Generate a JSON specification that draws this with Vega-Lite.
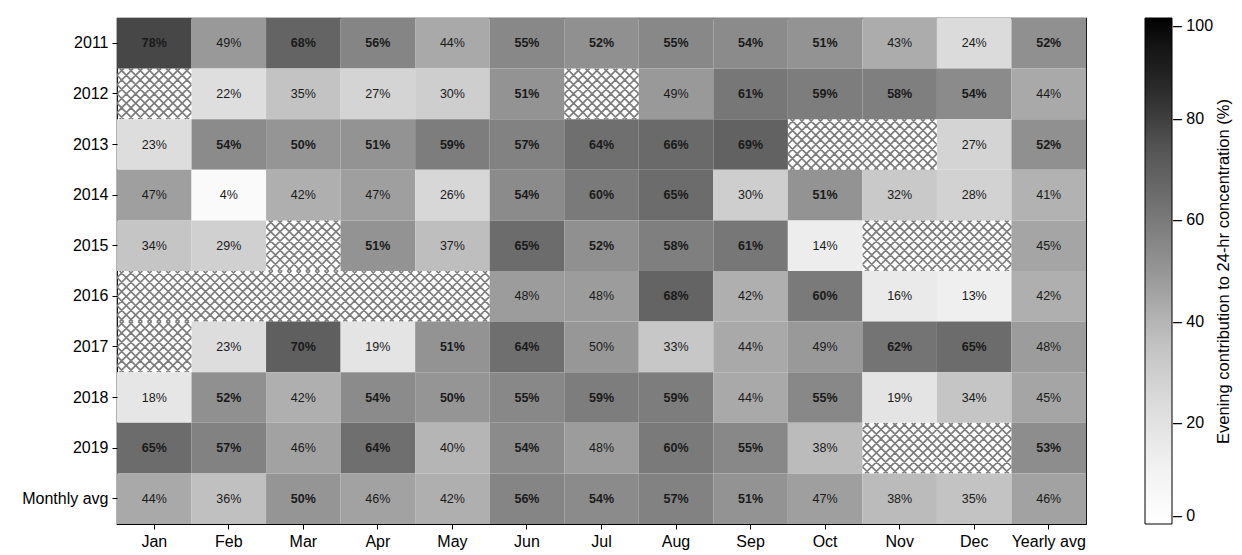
{
  "$schema": "https://vega.github.io/schema/vega-lite/v6.json",
  "width": 969,
  "height": 506,
  "autosize": {"type": "none"},
  "padding": {"left": 117, "top": 18, "right": 156, "bottom": 31},
  "background": "white",
  "data": {
    "values": [
      {"row": "2011", "Jan": 78, "Feb": 49, "Mar": 68, "Apr": 56, "May": 44, "Jun": 55, "Jul": 52, "Aug": 55, "Sep": 54, "Oct": 51, "Nov": 43, "Dec": 24, "Yearly avg": 52},
      {"row": "2012", "Jan": null, "Feb": 22, "Mar": 35, "Apr": 27, "May": 30, "Jun": 51, "Jul": null, "Aug": 49, "Sep": 61, "Oct": 59, "Nov": 58, "Dec": 54, "Yearly avg": 44},
      {"row": "2013", "Jan": 23, "Feb": 54, "Mar": 50.2, "Apr": 51, "May": 59, "Jun": 57, "Jul": 64, "Aug": 66, "Sep": 69, "Oct": null, "Nov": null, "Dec": 27, "Yearly avg": 52},
      {"row": "2014", "Jan": 47, "Feb": 4, "Mar": 42, "Apr": 47, "May": 26, "Jun": 54, "Jul": 60, "Aug": 65, "Sep": 30, "Oct": 51, "Nov": 32, "Dec": 28, "Yearly avg": 41},
      {"row": "2015", "Jan": 34, "Feb": 29, "Mar": null, "Apr": 51, "May": 37, "Jun": 65, "Jul": 52, "Aug": 58, "Sep": 61, "Oct": 14, "Nov": null, "Dec": null, "Yearly avg": 45},
      {"row": "2016", "Jan": null, "Feb": null, "Mar": null, "Apr": null, "May": null, "Jun": 48, "Jul": 48, "Aug": 68, "Sep": 42, "Oct": 60, "Nov": 16, "Dec": 13, "Yearly avg": 42},
      {"row": "2017", "Jan": null, "Feb": 23, "Mar": 70, "Apr": 19, "May": 51, "Jun": 64, "Jul": 49.6, "Aug": 33, "Sep": 44, "Oct": 49, "Nov": 62, "Dec": 65, "Yearly avg": 48},
      {"row": "2018", "Jan": 18, "Feb": 52, "Mar": 42, "Apr": 54, "May": 50.2, "Jun": 55, "Jul": 59, "Aug": 59, "Sep": 44, "Oct": 55, "Nov": 19, "Dec": 34, "Yearly avg": 45},
      {"row": "2019", "Jan": 65, "Feb": 57, "Mar": 46, "Apr": 64, "May": 40, "Jun": 54, "Jul": 48, "Aug": 60, "Sep": 55, "Oct": 38, "Nov": null, "Dec": null, "Yearly avg": 53},
      {"row": "Monthly avg", "Jan": 44, "Feb": 36, "Mar": 50.2, "Apr": 46, "May": 42, "Jun": 56, "Jul": 54, "Aug": 57, "Sep": 51, "Oct": 47, "Nov": 38, "Dec": 35, "Yearly avg": 46}
    ]
  },
  "transform": [
    {"fold": ["Jan", "Feb", "Mar", "Apr", "May", "Jun", "Jul", "Aug", "Sep", "Oct", "Nov", "Dec", "Yearly avg"], "as": ["month", "v"]}
  ],
  "encoding": {
    "x": {
      "field": "month", "type": "nominal",
      "sort": ["Jan", "Feb", "Mar", "Apr", "May", "Jun", "Jul", "Aug", "Sep", "Oct", "Nov", "Dec", "Yearly avg"],
      "scale": {"paddingInner": 0, "paddingOuter": 0},
      "axis": {"title": null, "labelAngle": 0}
    }
  },
  "layer": [
    {
      "transform": [{"filter": "datum.v == null"}],
      "mark": {
        "type": "point",
        "shape": "M30.6,-25.3L37.27,-18.64M21.29,-25.3L37.27,-9.32M11.97,-25.3L37.27,0M2.65,-25.3L37.27,9.32M-6.67,-25.3L37.27,18.64M-15.98,-25.3L34.62,25.3M-25.3,-25.3L25.3,25.3M-34.62,-25.3L15.98,25.3M-37.27,-18.64L6.67,25.3M-37.27,-9.32L-2.65,25.3M-37.27,0L-11.97,25.3M-37.27,9.32L-21.29,25.3M-37.27,18.64L-30.6,25.3M-30.6,-25.3L-37.27,-18.64M-21.29,-25.3L-37.27,-9.32M-11.97,-25.3L-37.27,0M-2.65,-25.3L-37.27,9.32M6.67,-25.3L-37.27,18.64M15.98,-25.3L-34.62,25.3M25.3,-25.3L-25.3,25.3M34.62,-25.3L-15.98,25.3M37.27,-18.64L-6.67,25.3M37.27,-9.32L2.65,25.3M37.27,0L11.97,25.3M37.27,9.32L21.29,25.3M37.27,18.64L30.6,25.3",
        "size": 4,
        "filled": false,
        "stroke": "#7d7d7d",
        "strokeWidth": 1.7,
        "opacity": 1,
        "clip": true
      },
      "encoding": {
        "y": {
          "field": "row", "type": "nominal",
          "sort": ["2011", "2012", "2013", "2014", "2015", "2016", "2017", "2018", "2019", "Monthly avg"],
          "scale": {"domain": ["2011", "2012", "2013", "2014", "2015", "2016", "2017", "2018", "2019", "Monthly avg"], "paddingInner": 0, "paddingOuter": 0},
          "axis": null
        }
      }
    },
    {
      "transform": [{"filter": "datum.v != null"}],
      "mark": {"type": "rect"},
      "encoding": {
        "y": {
          "field": "row", "type": "nominal",
          "sort": ["2011", "2012", "2013", "2014", "2015", "2016", "2017", "2018", "2019", "Monthly avg"],
          "scale": {"domain": ["2011", "2012", "2013", "2014", "2015", "2016", "2017", "2018", "2019", "Monthly avg"], "paddingInner": 0, "paddingOuter": 0},
          "axis": {"title": null, "orient": "left"}
        },
        "color": {
          "field": "v", "type": "quantitative",
          "scale": {
            "domain": [0, 12.5, 25, 37.5, 50, 62.5, 75, 87.5, 100],
            "range": ["#ffffff", "#f0f0f0", "#d9d9d9", "#bdbdbd", "#969696", "#737373", "#525252", "#252525", "#000000"]
          },
          "legend": {
            "orient": "none", "legendX": 1028, "legendY": 0,
            "direction": "vertical",
            "gradientLength": 506, "gradientThickness": 27,
            "gradientStrokeColor": "#000", "gradientStrokeWidth": 1,
            "values": [0, 20, 40, 60, 80, 100],
            "labelFont": "Liberation Sans", "labelFontSize": 16, "labelColor": "#000",
            "labelOffset": 1, "labelOverlap": false, "labelBaseline": "middle",
            "labelExpr": "'– ' + datum.label",
            "title": null
          }
        }
      }
    },
    {
      "transform": [{"filter": "datum.v != null"}],
      "mark": {
        "type": "text",
        "font": "Liberation Sans",
        "fontSize": 12.5,
        "fill": "#1a1a1a",
        "text": {"expr": "format(datum.v, '.0f') + '%'"},
        "fontWeight": {"expr": "datum.v >= 50 ? 'bold' : 'normal'"}
      },
      "encoding": {
        "y": {
          "field": "row", "type": "nominal",
          "sort": ["2011", "2012", "2013", "2014", "2015", "2016", "2017", "2018", "2019", "Monthly avg"],
          "scale": {"domain": ["2011", "2012", "2013", "2014", "2015", "2016", "2017", "2018", "2019", "Monthly avg"], "paddingInner": 0, "paddingOuter": 0},
          "axis": {
            "orient": "right", "labels": false, "ticks": false, "domain": false,
            "title": "Evening contribution to 24-hr concentration (%)",
            "titleAngle": 270, "titleBaseline": "middle", "titleAlign": "center",
            "titleAnchor": "middle", "titlePadding": 137,
            "titleFont": "Liberation Sans", "titleFontSize": 16.5, "titleFontWeight": "normal",
            "titleColor": "#000", "titleLimit": 600
          }
        }
      }
    }
  ],
  "resolve": {"axis": {"y": "independent"}},
  "config": {
    "view": {"stroke": "#000", "strokeWidth": 1.2},
    "axis": {
      "domain": false,
      "ticks": true, "tickColor": "#000", "tickSize": 5, "tickWidth": 1,
      "labelFont": "Liberation Sans", "labelFontSize": 16, "labelColor": "#000",
      "labelPadding": 4, "grid": false
    }
  }
}
